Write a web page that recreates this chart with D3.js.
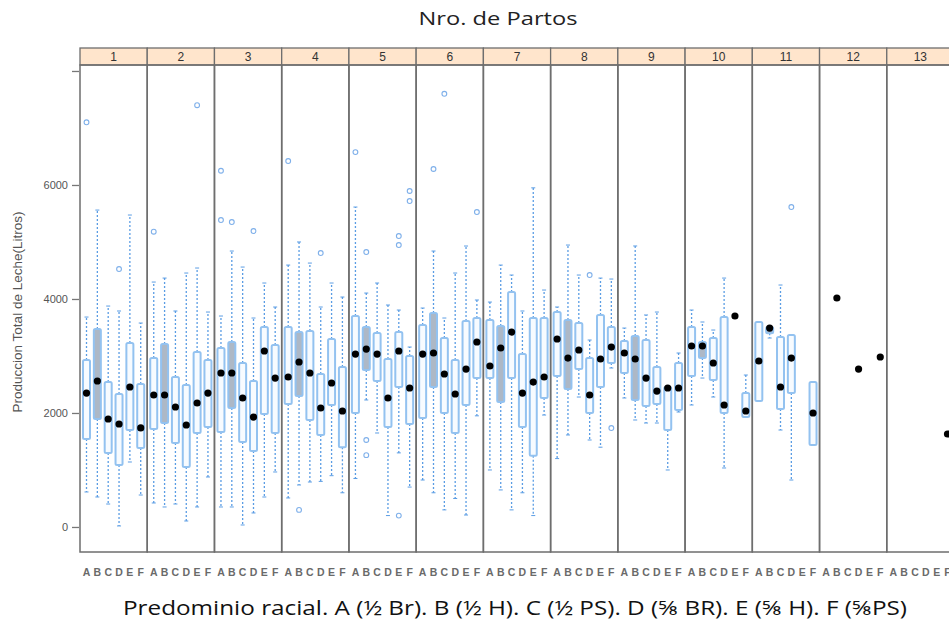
<!doctype html>
<html lang="es">
<head>
<meta charset="utf-8">
<title>Nro. de Partos</title>
<script src="https://cdn.jsdelivr.net/npm/d3@7"></script>
<style>
  body { margin: 0; background: #fff; }
  svg { display: block; font-family: "Liberation Sans", Arial, sans-serif; }
</style>
</head>
<body>
<svg id="chart" width="949" height="624"></svg>
<script>
// numero de partos (paneles) y predominio racial (cajas)
var partos = ["1","2","3","4","5","6","7","8","9","10","11","12","13"];
var razas = ["A","B","C","D","E","F"];

// por panel: A..F, null = sin datos
var bigoteBajo = [
  [614, 526, 403, 18, 1140, 561],
  [421, 351, 403, 105, 351, 877],
  [351, 351, 35, 246, 526, 965],
  [509, 737, 789, 800, 900, 600],
  [850, 2228, 1649, 200, 1300, 700],
  [824, 600, 300, 500, 210, 1950],
  [1000, 650, 300, 600, 200, 1964],
  [1200, 1614, 2280, 1526, 1400, 2789],
  [2263, 1877, 1824, 1824, 1000, 2017],
  [2140, 2613, 2280, 1035, null, 1929],
  [2210, 3315, 1701, 824, null, 1438],
  [null, null, null, null, null, null],
  [null, null, null, null, null, null]
];
var cuartil1 = [
  [1544, 1894, 1298, 1087, 1701, 1386],
  [1719, 1824, 1473, 1052, 1649, 1754],
  [1666, 2087, 1491, 1333, 1982, 1649],
  [2157, 2298, 1877, 1614, 2140, 1400],
  [2000, 2754, 2561, 1754, 2456, 1807],
  [1912, 2456, 2000, 1649, 2140, 2613],
  [2613, 2193, 2613, 1754, 1250, 2263],
  [2649, 2421, 2771, 2000, 2456, 2877],
  [2701, 2228, 2122, 2157, 1701, 2052],
  [2649, 2964, 2578, 2000, null, 1929],
  [2210, 3400, 2070, 2350, null, 1438],
  [null, null, null, null, null, null],
  [null, null, null, null, null, null]
];
var mediana = [
  [2350, 2561, 1894, 1807, 2456, 1737],
  [2315, 2315, 2105, 1789, 2175, 2350],
  [2701, 2701, 2263, 1929, 3087, 2613],
  [2631, 2894, 2701, 2087, 2526, 2035],
  [3034, 3122, 3034, 2263, 3087, 2438],
  [3034, 3052, 2684, 2333, 2771, 3245],
  [2824, 3140, 3420, 2350, 2543, 2631],
  [3298, 2964, 3105, 2315, 2947, 3157],
  [3052, 2947, 2613, 2385, 2438, 2438],
  [3175, 3175, 2877, 2140, 3701, 2035],
  [2912, 3490, 2456, 2964, null, 2000],
  [null, 4017, null, 2771, null, 2982],
  [null, null, null, null, null, 1631]
];
var cuartil3 = [
  [2929, 3473, 2543, 2333, 3227, 2508],
  [2964, 3210, 2631, 2491, 3070, 2929],
  [3140, 3245, 2877, 2561, 3508, 3192],
  [3508, 3420, 3438, 2684, 3298, 2806],
  [3701, 3508, 3403, 2947, 3420, 2999],
  [3543, 3754, 3315, 2929, 3613, 3666],
  [3631, 3526, 4122, 3034, 3666, 3666],
  [3771, 3631, 3578, 2964, 3719, 3508],
  [3262, 3350, 3280, 2806, 2456, 2877],
  [3508, 3245, 3315, 3683, null, 2350],
  [3596, 3508, 3333, 3368, null, 2543],
  [null, null, null, null, null, null],
  [null, null, null, null, null, null]
];
var bigoteAlto = [
  [3683, 5560, 3876, 3789, 5473, 3578],
  [4297, 4367, 3789, 4455, 4543, 3771],
  [3701, 4841, 4560, 3666, 4280, 3859],
  [4595, 5000, 4630, 3859, 4280, 4034],
  [5613, 4104, 4280, 3894, 3806, 3157],
  [3841, 4841, 3666, 4455, 4929, 3982],
  [3946, 4595, 4420, 3789, 5950, 4157],
  [3859, 4946, 4420, 3280, 4367, 4350],
  [3490, 4930, 3719, 3771, 2456, 3052],
  [3806, 3596, 3455, 4367, null, 2666],
  [3596, 3508, 4245, 3368, null, 2543],
  [null, null, null, null, null, null],
  [null, null, null, null, null, null]
];
// valores atipicos: [parto, raza, litros]
var atipicos = [
  ["1","A",7100], ["1","D",4525],
  ["2","A",5180], ["2","E",7400],
  ["3","A",6250], ["3","A",5385], ["3","B",5350], ["3","D",5192],
  ["4","A",6420], ["4","B",300], ["4","D",4806],
  ["5","A",6577], ["5","B",4823], ["5","B",1526], ["5","B",1260],
  ["5","E",5104], ["5","E",4946], ["5","E",200], ["5","F",5894], ["5","F",5718],
  ["6","B",6280], ["6","C",7600], ["6","F",5525],
  ["8","D",4420], ["8","F",1736],
  ["11","D",5613]
];
var yTicks = [0, 2000, 4000, 6000, 8000];

var svg = d3.select("#chart");
var plotL = 80, plotR = 954, plotT = 65, plotB = 552, stripH = 17;

var x = d3.scaleBand().domain(partos).range([plotL, plotR]);
var xr = d3.scalePoint().domain(razas).range([0, x.bandwidth()]).padding(0.6);
var y = d3.scaleLinear().domain([-439, 8105]).range([plotB, plotT]);

var boxW = 7, capW = 4;
var azul = "#93c2f0", azulBigote = "#5b9de4";

// titulo
svg.append("text")
  .attr("x", 498).attr("y", 25)
  .attr("text-anchor", "middle")
  .attr("textLength", 159).attr("lengthAdjust", "spacingAndGlyphs")
  .style("font-family", "'Open Sans', sans-serif")
  .style("font-size", "19px").style("fill", "#222")
  .text("Nro. de Partos");

// paneles
partos.forEach(function(p, i) {
  var x0 = x(p);
  var g = svg.append("g").attr("transform", "translate(" + x0 + ",0)");

  g.append("rect")
    .attr("x", 0).attr("y", plotT - stripH)
    .attr("width", x.bandwidth()).attr("height", stripH)
    .style("fill", "#ffe5cc").style("stroke", "#6e6e6e").style("stroke-width", 1.3);
  g.append("text")
    .attr("x", x.bandwidth() / 2).attr("y", plotT - 4)
    .attr("text-anchor", "middle")
    .style("font-size", "12px").style("fill", "#333")
    .text(p);

  g.append("rect")
    .attr("x", 0).attr("y", plotT)
    .attr("width", x.bandwidth()).attr("height", plotB - plotT)
    .style("fill", "none").style("stroke", "#6e6e6e").style("stroke-width", 1.5);

  razas.forEach(function(r, j) {
    var cx = xr(r);
    var lo = bigoteBajo[i][j], a = cuartil1[i][j],
        b = cuartil3[i][j], hi = bigoteAlto[i][j];

    if (a != null) {
      // bigotes
      g.append("line")
        .attr("x1", cx).attr("x2", cx).attr("y1", y(b)).attr("y2", y(hi))
        .style("stroke", azulBigote).style("stroke-width", 1.3).style("stroke-dasharray", "2,2");
      g.append("line")
        .attr("x1", cx).attr("x2", cx).attr("y1", y(a)).attr("y2", y(lo))
        .style("stroke", azulBigote).style("stroke-width", 1.3).style("stroke-dasharray", "2,2");
      [lo, hi].forEach(function(v) {
        g.append("line")
          .attr("x1", cx - capW / 2).attr("x2", cx + capW / 2)
          .attr("y1", y(v)).attr("y2", y(v))
          .style("stroke", azulBigote).style("stroke-width", 1);
      });
      // caja
      g.append("rect")
        .attr("x", cx - boxW / 2).attr("y", y(b))
        .attr("width", boxW).attr("height", Math.max(2, y(a) - y(b)))
        .attr("rx", 1.5)
        .style("fill", r == "B" ? "#adb8c6" : "#f7fbff")
        .style("stroke", azul).style("stroke-width", 2);
    }
  });

  // atipicos
  atipicos.filter(function(d) { return d[0] == p; }).forEach(function(d) {
    g.append("circle")
      .attr("cx", xr(d[1])).attr("cy", y(d[2])).attr("r", 2.4)
      .style("fill", "none").style("stroke", "#7fb0ea").style("stroke-width", 1.1);
  });

  // medianas
  razas.forEach(function(r, j) {
    if (mediana[i][j] == null) return;
    g.append("circle")
      .attr("cx", xr(r)).attr("cy", y(mediana[i][j])).attr("r", 3.6)
      .style("fill", "#000");
  });

  // etiquetas ABCDEF
  g.selectAll("text.raza").data(razas).enter().append("text")
    .attr("class", "raza")
    .attr("x", function(d) { return xr(d); })
    .attr("y", 576)
    .attr("text-anchor", "middle")
    .style("font-size", "10.5px").style("font-weight", "bold").style("fill", "#6a6a6a")
    .text(function(d) { return d; });
});

// eje y
var yAxis = d3.axisLeft(y).tickValues(yTicks).tickSize(7).tickPadding(4)
  .tickFormat(function(d) { return d == 8000 ? "" : d; });
var ya = svg.append("g").attr("transform", "translate(" + (plotL - 1) + ",0)").call(yAxis);
ya.select(".domain").remove();
ya.selectAll(".tick line").style("stroke", "#777").style("stroke-width", 1.3);
ya.selectAll(".tick text").style("font-size", "11px").style("fill", "#555")
  .style("font-family", "'Liberation Sans', Arial, sans-serif");

svg.append("text")
  .attr("transform", "translate(22,312) rotate(-90)")
  .attr("text-anchor", "middle")
  .style("font-size", "13.5px").style("fill", "#555")
  .text("Produccion Total de Leche(Litros)");

// etiqueta inferior
svg.append("text")
  .attr("x", 515).attr("y", 615)
  .attr("text-anchor", "middle")
  .attr("textLength", 784).attr("lengthAdjust", "spacingAndGlyphs")
  .style("font-family", "'Open Sans', sans-serif")
  .style("font-size", "20px").style("fill", "#111")
  .text("Predominio racial. A (½ Br). B (½ H). C (½ PS). D (⅝ BR). E (⅝ H). F (⅝PS)");
</script>
</body>
</html>
